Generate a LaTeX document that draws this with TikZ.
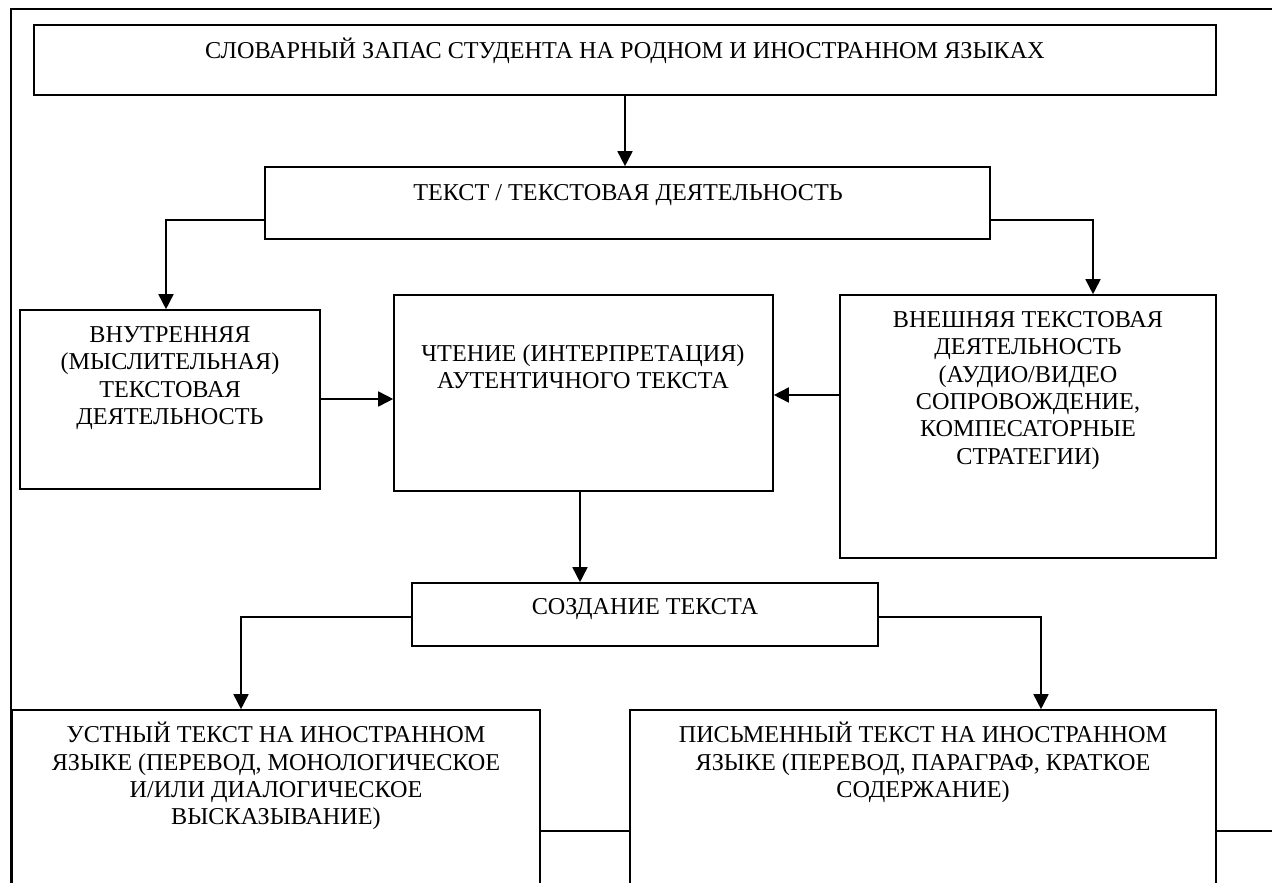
\documentclass[tikz,border=0pt]{standalone}
\usepackage{fontspec}
\setmainfont{Liberation Serif}
\usetikzlibrary{arrows.meta,fit}
\newcommand\fst{\rule{0pt}{20pt}}
\begin{document}
\begin{tikzpicture}[x=1pt,y=-1pt,
  bx/.style={draw, line width=1.6pt, inner sep=0pt},
  tx/.style={anchor=north, align=center, inner sep=0pt, font=\fontsize{24.2}{27.4}\selectfont},
  ln/.style={line width=1.6pt},
  arr/.style={line width=1.6pt, -{Triangle[length=15pt,width=15pt]}},
  frame/.style={line width=2.4pt},
  thinframe/.style={line width=1.2pt}]
\useasboundingbox (0,0) rectangle (1272,883);
\clip (0,0) rectangle (1272,883);
% boxes
\node[bx, fit={(34,25) (1216,95)}] (b1) {};
\node[bx, fit={(265,167) (990,239)}] (b2) {};
\node[bx, fit={(20,310) (320,489)}] (b3) {};
\node[bx, fit={(394,295) (773,491)}] (b4) {};
\node[bx, fit={(840,295) (1216,558)}] (b6) {};
\node[bx, fit={(412,583) (878,646)}] (b5) {};
\node[bx, fit={(12,710) (540,900)}] (b7) {};
\node[bx, fit={(630,710) (1216,900)}] (b8) {};
% texts
\node[tx] (t1) at (625,38) {\fst СЛОВАРНЫЙ ЗАПАС СТУДЕНТА НА РОДНОМ И ИНОСТРАННОМ ЯЗЫКАХ};
\node[tx] (t2) at (628,180) {\fst ТЕКСТ / ТЕКСТОВАЯ ДЕЯТЕЛЬНОСТЬ};
\node[tx] (t3) at (170,322) {\fst ВНУТРЕННЯЯ\\(МЫСЛИТЕЛЬНАЯ)\\ТЕКСТОВАЯ\\ДЕЯТЕЛЬНОСТЬ};
\node[tx] (t4) at (583,341) {\fst ЧТЕНИЕ (ИНТЕРПРЕТАЦИЯ)\\АУТЕНТИЧНОГО ТЕКСТА};
\node[tx] (t6) at (1028,307) {\fst ВНЕШНЯЯ ТЕКСТОВАЯ\\ДЕЯТЕЛЬНОСТЬ\\(АУДИО/ВИДЕО\\СОПРОВОЖДЕНИЕ,\\КОМПЕСАТОРНЫЕ\\СТРАТЕГИИ)};
\node[tx] (t5) at (645,594) {\fst СОЗДАНИЕ ТЕКСТА};
\node[tx] (t7) at (276,722) {\fst УСТНЫЙ ТЕКСТ НА ИНОСТРАННОМ\\ЯЗЫКЕ (ПЕРЕВОД, МОНОЛОГИЧЕСКОЕ\\И/ИЛИ ДИАЛОГИЧЕСКОЕ\\ВЫСКАЗЫВАНИЕ)};
\node[tx] (t8) at (923,722) {\fst ПИСЬМЕННЫЙ ТЕКСТ НА ИНОСТРАННОМ\\ЯЗЫКЕ (ПЕРЕВОД, ПАРАГРАФ, КРАТКОЕ\\СОДЕРЖАНИЕ)};
% helper coordinates
\coordinate (l1) at (166,220);
\coordinate (r1) at (1093,220);
\coordinate (m1) at (0,399);
\coordinate (m2) at (0,395);
\coordinate (d1) at (580,0);
\coordinate (l2) at (241,617);
\coordinate (r2) at (1041,617);
\coordinate (h1) at (0,831);
\coordinate (h2) at (1272,831);
\coordinate (f0) at (11,9);
\coordinate (f1) at (1272,9);
\coordinate (f2) at (11,831);
\coordinate (f3) at (11,883);
% connectors
\draw[arr] (b1.south) -- (b1.south |- b2.north);
\draw[arr] (b2.west |- l1) -- (l1) -- (l1 |- b3.north);
\draw[arr] (b2.east |- r1) -- (r1) -- (r1 |- b6.north);
\draw[arr] (b3.east |- m1) -- (b4.west |- m1);
\draw[arr] (b6.west |- m2) -- (b4.east |- m2);
\draw[arr] (d1 |- b4.south) -- (d1 |- b5.north);
\draw[arr] (b5.west |- l2) -- (l2) -- (l2 |- b7.north);
\draw[arr] (b5.east |- r2) -- (r2) -- (r2 |- b8.north);
\draw[ln] (b7.east |- h1) -- (b8.west |- h1);
\draw[ln] (b8.east |- h2) -- (h2);
% outer frame
\draw[frame] (f1) -- (f0) -- (f2);
\draw[thinframe] (f2) -- (f3);
\end{tikzpicture}
\end{document}
